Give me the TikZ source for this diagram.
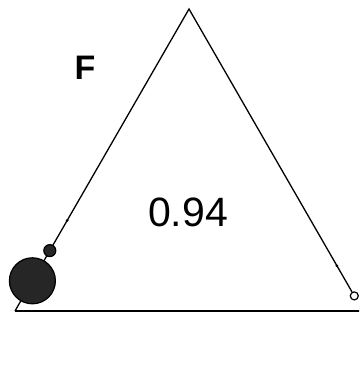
\documentclass[tikz,border=0pt]{standalone}
\usepackage{fontspec}
\setmainfont{Liberation Sans}
\usetikzlibrary{calc}
\begin{document}
\begin{tikzpicture}[x=1pt,y=-1pt,
  edge/.style={line width=1.3pt},
  filledmark/.style={circle, draw=black, line width=1.2pt, fill=black!85, inner sep=0pt},
  openmark/.style={circle, draw=black, line width=1.2pt, fill=white, inner sep=0pt, minimum size=8pt},
  tickdot/.style={circle, fill=black, inner sep=0pt, minimum size=3pt},
  lbl/.style={inner sep=0pt}]
\useasboundingbox (0,0) rectangle (359,375);
\clip (0,0) rectangle (359,375);
\coordinate (A) at (189,9);
\coordinate (L) at (15,311);
\coordinate (R) at (363,311);
\node[openmark] (oc) at ($(A)!0.95!(R)$) {};
\draw[edge] (L) -- (A) -- (oc);
\draw[edge] (L) -- (R);
\node[tickdot] (tl) at ($(A)!0.70!(L)$) {};
\node[tickdot] (tr) at ($(A)!0.85!(R)$) {};
\node[filledmark, minimum size=12pt] (sc) at ($(A)!0.80!(L)$) {};
\node[filledmark, minimum size=46pt] (bc) at ($(A)!0.90!(L)$) {};
\node[lbl, font=\bfseries\fontsize{34}{34}\selectfont] (f) at (85,67.5) {F};
\node[lbl, font=\fontsize{41}{41}\selectfont] (v) at (188,212) {0.94};
\end{tikzpicture}
\end{document}
